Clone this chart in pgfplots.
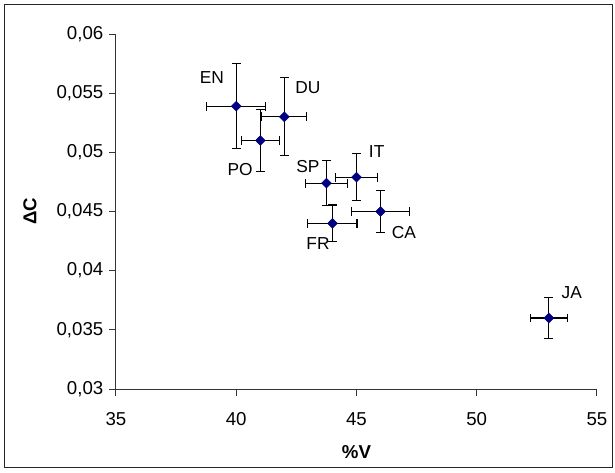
\documentclass[border=0pt]{standalone}
\usepackage{pgfplots}
\usepackage{pgfplotstable}
\pgfplotsset{compat=1.18}
\usepackage{fontspec}
\setmainfont{Liberation Sans}
\definecolor{navy}{RGB}{0,0,128}

\pgfplotstableread{
x y ex ey
40 0.0539 1.22 0.0036
42 0.0530 0.94 0.0033
41 0.0510 0.78 0.0026
43.75 0.0474 0.87 0.0019
45 0.0479 0.86 0.0020
44 0.0440 1.02 0.00155
46 0.0450 1.22 0.0018
53 0.0360 0.76 0.0017
}\data

\begin{document}
\begin{tikzpicture}
\useasboundingbox (-87pt,-62.25pt) rectangle (374.25pt,291.75pt);
\draw[line width=0.75pt, black!85] (-83.25pt,-58.5pt) rectangle (372pt,288pt);
\begin{axis}[
  at={(0,0)}, anchor=south west, scale only axis,
  width=360.75pt, height=266.25pt,
  xmin=35, xmax=55, ymin=0.03, ymax=0.06,
  xtick={35,40,45,50,55},
  xticklabels={35,40,45,50,55},
  ytick={0.03,0.035,0.04,0.045,0.05,0.055,0.06},
  yticklabels={{0,03},{0,035},{0,04},{0,045},{0,05},{0,055},{0,06}},
  axis x line*=bottom, axis y line*=left,
  axis line style={black!80, line width=0.75pt},
  tick align=outside,
  major tick length=5pt,
  tick style={black!80, line width=0.75pt},
  scaled y ticks=false,
  ticklabel style={font=\fontsize{14}{16}\selectfont},
  xticklabel style={yshift=-9pt},
  yticklabel style={xshift=-1pt},
  xlabel={\textbf{\%V}}, ylabel={\textbf{ΔC}},
  label style={font=\fontsize{14}{16}\selectfont},
  xlabel style={at={(axis description cs:0.5,-0.1775)}, anchor=center},
  ylabel style={at={(axis description cs:-0.1788,0.5)}, anchor=center},
  clip=false,
]
\addplot[only marks, color=navy, mark=square*, mark size=2.6pt,
  mark options={rotate=45, fill=navy, draw=navy},
  error bars/.cd, x dir=both, x explicit, y dir=both, y explicit,
  error mark=|,
  error bar style={black, line width=0.8pt},
  error mark options={black, mark size=3.3pt, line width=0.8pt, rotate=0}]
  table[x=x, y=y, x error=ex, y error=ey] {\data};
\begin{scope}[every node/.style={font=\fontsize{13}{15}\selectfont, inner sep=0pt}]
\node at (axis cs:38.99,0.05628) {EN};
\node at (axis cs:42.98,0.05544) {DU};
\node at (axis cs:40.16,0.04851) {PO};
\node at (axis cs:42.98,0.04879) {SP};
\node at (axis cs:45.84,0.05005) {IT};
\node at (axis cs:43.40,0.04231) {FR};
\node at (axis cs:46.97,0.04324) {CA};
\node at (axis cs:53.95,0.03814) {JA};
\end{scope}
\end{axis}
\end{tikzpicture}
\end{document}
